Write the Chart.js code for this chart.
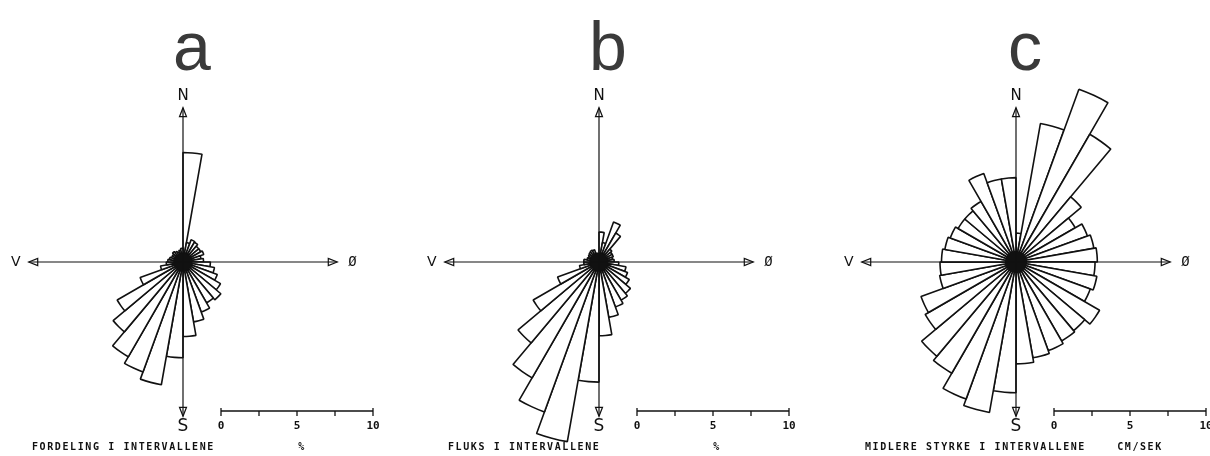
<!DOCTYPE html>
<html>
<head>
<meta charset="utf-8">
<script src="https://cdn.jsdelivr.net/npm/chart.js@4.4.0/dist/chart.umd.min.js"></script>
<style>
  html, body { margin: 0; padding: 0; background: #fff; }
  body { width: 1210px; height: 456px; position: relative; overflow: hidden; }
  canvas { position: absolute; top: 0; }
</style>
</head>
<body>
<canvas id="roseA" width="400" height="456" style="left:0px"></canvas>
<canvas id="roseB" width="400" height="456" style="left:416px"></canvas>
<canvas id="roseC" width="400" height="456" style="left:833px"></canvas>
<script>
// 36 sectors of 10 degrees, clockwise from north
var sectors = [];
for (var i = 0; i < 36; i++) sectors.push(i * 10 + '-' + (i * 10 + 10));

// a: fordeling i intervallene (%)
var fordeling = [7.2, 1.3, 1.55, 1.5, 1.35, 1.35, 1.45, 1.2, 1.35,
                 1.8, 2.1, 2.4, 2.85, 3.25, 3.1, 3.5, 4.0, 4.9,
                 6.3, 8.2, 7.7, 7.2, 6.0, 5.0, 3.0, 1.5, 1.1,
                 1.0, 0.9, 0.8, 0.8, 0.9, 0.8, 0.7, 0.8, 0.9];
// b: fluks i intervallene (%)
var fluks = [1.97, 1.3, 2.8, 2.2, 1.1, 1.0, 1.0, 0.9, 1.0,
             1.3, 1.8, 2.0, 2.3, 2.7, 2.9, 3.15, 3.7, 4.85,
             7.9, 12.0, 10.5, 8.8, 6.95, 5.0, 2.9, 1.3, 1.0,
             1.0, 0.8, 0.75, 0.8, 0.85, 0.9, 0.85, 0.6, 0.5];
// c: midlere styrke i intervallene (cm/sek)
var styrke = [1.9, 9.25, 12.1, 9.7, 5.6, 4.5, 5.0, 5.2, 5.35,
              5.2, 5.4, 5.2, 6.35, 5.9, 6.0, 6.2, 6.4, 6.7,
              8.6, 10.05, 9.6, 8.45, 8.1, 6.9, 6.65, 5.1, 5.0,
              4.9, 4.75, 4.6, 4.4, 4.4, 4.6, 6.2, 5.55, 5.55];

var scaleTicks = [0, 2.5, 5, 7.5, 10];
var scaleLabels = ['0', '', '5', '', '10'];
var compass = ['N', 'Ø', 'S', 'V'];

var rosePlugin = {
	id: 'rose',
	afterDatasetsDraw: function(chart, args, o) {
		var r = chart.scales.r, ctx = chart.ctx;
		var cx = r.xCenter, cy = r.yCenter;
		var d = function(v) { return r.getDistanceFromCenterForValue(v); };
		ctx.save();
		ctx.strokeStyle = '#111';
		ctx.fillStyle = '#111';

		// dark hub where the sector lines meet
		ctx.beginPath();
		ctx.arc(cx, cy, o.hub, 0, Math.PI * 2);
		ctx.fill();

		// compass arrows
		var L = d(10.15);
		var dirs = [[0, -1], [1, 0], [0, 1], [-1, 0]];
		ctx.lineWidth = 1.2;
		dirs.forEach(function(u, k) {
			var tx = cx + u[0] * L, ty = cy + u[1] * L;
			ctx.beginPath();
			ctx.moveTo(cx, cy);
			ctx.lineTo(tx, ty);
			ctx.stroke();
			var bx = tx - u[0] * 9, by = ty - u[1] * 9;
			var px = -u[1] * 3.5, py = u[0] * 3.5;
			ctx.beginPath();
			ctx.moveTo(tx, ty);
			ctx.lineTo(bx + px, by + py);
			ctx.lineTo(bx - px, by - py);
			ctx.closePath();
			ctx.stroke();
		});
		ctx.textAlign = 'center';
		ctx.textBaseline = 'middle';
		ctx.font = '15px "DejaVu Sans"';
		ctx.fillText(compass[0], cx, cy - d(10.9));
		ctx.font = '14px "DejaVu Sans Mono"';
		ctx.fillText(compass[1], cx + d(11.15), cy);
		ctx.font = '17px "DejaVu Sans"';
		ctx.fillText(compass[2], cx, cy + d(10.8));
		ctx.font = '14px "DejaVu Sans"';
		ctx.fillText(compass[3], cx - d(11.0), cy);

		// scale bar
		var x0 = cx + d(2.5), yb = cy + 149;
		ctx.lineWidth = 1.3;
		ctx.beginPath();
		ctx.moveTo(x0, yb);
		ctx.lineTo(x0 + d(10), yb);
		ctx.stroke();
		scaleTicks.forEach(function(t, k) {
			var x = x0 + d(t);
			var end = (k === 0 || k === scaleTicks.length - 1);
			ctx.beginPath();
			ctx.moveTo(x, yb - (end ? 3 : 0));
			ctx.lineTo(x, yb + 5);
			ctx.stroke();
		});
		ctx.font = 'bold 11px "DejaVu Sans Mono"';
		scaleTicks.forEach(function(t, k) {
			if (scaleLabels[k]) ctx.fillText(scaleLabels[k], x0 + d(t), yb + 15);
		});

		// caption and unit
		ctx.font = 'bold 10px "DejaVu Sans Mono"';
		ctx.letterSpacing = '1.6px';
		ctx.textAlign = 'left';
		ctx.fillText(o.caption, cx - 151, yb + 36);
		ctx.textAlign = 'center';
		ctx.fillText(o.unit, cx + o.unitDx, yb + 36);
		ctx.letterSpacing = '0px';

		// panel letter
		ctx.fillStyle = '#3a3a3a';
		ctx.textBaseline = 'alphabetic';
		ctx.font = '68px "Liberation Sans"';
		ctx.fillText(o.letter, cx + 9, 70);
		ctx.restore();
	}
};

function makeRose(id, values, letter, caption, unit, unitDx, hub) {
	return new Chart(document.getElementById(id), {
		type: 'polarArea',
		data: {
			labels: sectors,
			datasets: [{
				data: values,
				backgroundColor: '#ffffff',
				borderColor: '#111111',
				borderWidth: 1.6,
				clip: false
			}]
		},
		options: {
			responsive: false,
			animation: false,
			events: [],
			layout: {
				padding: { left: 31, right: 65, top: 110, bottom: 42 }
			},
			scales: {
				r: {
					min: 0,
					max: 10,
					startAngle: 0,
					ticks: { display: false },
					grid: { display: false },
					angleLines: { display: false },
					pointLabels: { display: false }
				}
			},
			plugins: {
				legend: { display: false },
				tooltip: { enabled: false },
				rose: { letter: letter, caption: caption, unit: unit, unitDx: unitDx, hub: hub }
			}
		},
		plugins: [rosePlugin]
	});
}

makeRose('roseA', fordeling, 'a', 'FORDELING I INTERVALLENE', '%', 119, 9);
makeRose('roseB', fluks, 'b', 'FLUKS I INTERVALLENE', '%', 118, 9);
makeRose('roseC', styrke, 'c', 'MIDLERE STYRKE I INTERVALLENE', 'CM/SEK', 124, 11);
</script>
</body>
</html>
